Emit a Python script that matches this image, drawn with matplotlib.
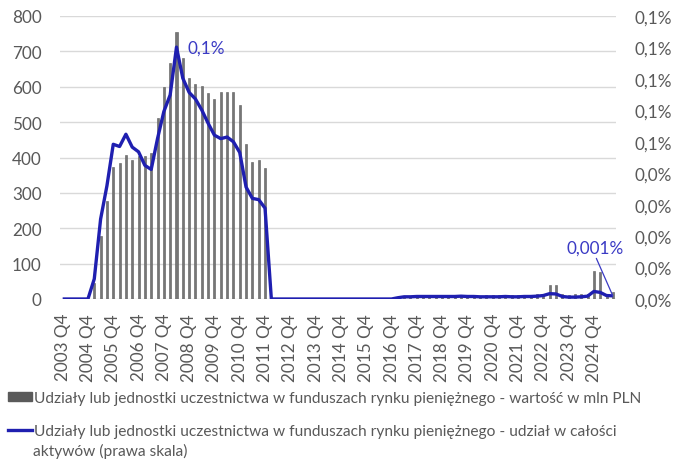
import matplotlib
matplotlib.use("Agg")
import matplotlib.pyplot as plt
import numpy as np
from matplotlib.patches import Patch
from matplotlib.lines import Line2D

plt.rcParams['font.family'] = ['Lato', 'DejaVu Sans']

# ---- data ----
n_quarters = 88  # 2003 Q4 .. 2025 Q3
tick_labels = ["2003 Q4", "2004 Q4", "2005 Q4", "2006 Q4", "2007 Q4", "2008 Q4",
               "2009 Q4", "2010 Q4", "2011 Q4", "2012 Q4", "2013 Q4", "2014 Q4",
               "2015 Q4", "2016 Q4", "2017 Q4", "2018 Q4", "2019 Q4", "2020 Q4",
               "2021 Q4", "2022 Q4", "2023 Q4", "2024 Q4"]

bar_values = ([0, 0, 0, 0, 0,
               45, 179, 278, 374, 384, 407, 393, 405, 403, 413, 511, 600, 666, 754,
               681, 626, 607, 603, 582, 565, 586, 586, 586, 549, 437, 388, 394, 370]
              + [0] * 20
              + [5, 6, 6, 7, 7, 6, 7, 8, 7, 8, 9, 8, 10, 9, 11, 10, 12, 11, 10, 12,
                 11, 12, 13, 12]
              + [40, 40, 13, 12, 14, 13, 15, 80, 75, 15, 19])

share_values = ([0, 0, 0, 0, 0,
                 0.0064, 0.0254, 0.0360, 0.0492, 0.0485, 0.0524, 0.0483, 0.0468,
                 0.0425, 0.0412, 0.0510, 0.0596, 0.0649, 0.0801, 0.0702, 0.0657,
                 0.0636, 0.0601, 0.0559, 0.0521, 0.0510, 0.0515, 0.0500, 0.0466,
                 0.0356, 0.0320, 0.0316, 0.0289]
                + [0] * 20
                + [0.0004,
                   0.0007, 0.0007, 0.0008, 0.0008, 0.0008, 0.0008, 0.0008, 0.0008,
                   0.0008, 0.0009, 0.0008, 0.0008, 0.0007, 0.0007, 0.0007, 0.0007,
                   0.0008, 0.0007, 0.0007, 0.0008, 0.0008, 0.0009, 0.0011]
                + [0.0017, 0.0016, 0.0008, 0.0006, 0.0006, 0.0007, 0.0009, 0.0024,
                   0.0021, 0.0011, 0.0010])

right_ticks = [0.0, 0.01, 0.02, 0.03, 0.04, 0.05, 0.06, 0.07, 0.08, 0.09]
left_ticks = [0, 100, 200, 300, 400, 500, 600, 700, 800]

label_bar = "Udziały lub jednostki uczestnictwa w funduszach rynku pieniężnego - wartość w mln PLN"
label_line_1 = "Udziały lub jednostki uczestnictwa w funduszach rynku pieniężnego - udział w całości"
label_line_2 = "aktywów (prawa skala)"

# ---- styling ----
W, H = 676, 460
fig = plt.figure(figsize=(W / 100, H / 100), dpi=100)
left_px, right_px, top_px, bottom_px = 59.5, 616, 17, 300
ax = fig.add_axes([left_px / W, 1 - bottom_px / H, (right_px - left_px) / W,
                   (bottom_px - top_px) / H])

x = np.arange(n_quarters)
tick_color = '#595959'
bar_color = '#767676'
line_color = '#1f1fb0'
ann_color = '#3a3ac4'
fs = 12.3

ax.bar(x, bar_values, width=0.32, color=bar_color, edgecolor='#5a5a5a',
       linewidth=0.4, zorder=2)
ax.set_xlim(-0.5, n_quarters - 0.5)
ax.set_ylim(0, 800)
ax.set_yticks(left_ticks)
ax.set_yticklabels([str(v) for v in left_ticks])
ax.grid(axis='y', color='#d9d9d9', linewidth=1.0, zorder=0)
ax.set_axisbelow(True)
ax.set_xticks(x[::4])
ax.set_xticklabels(tick_labels, rotation=90, va='top', ha='center')
ax.tick_params(axis='both', length=0, colors=tick_color, labelsize=fs)
ax.tick_params(axis='x', pad=10)
ax.tick_params(axis='y', pad=13)
for s in ax.spines.values():
    s.set_visible(False)

ax2 = ax.twinx()
ax2.plot(x, share_values, color=line_color, linewidth=2.4, zorder=3,
         solid_joinstyle='round', solid_capstyle='butt')
ax2.set_ylim(0, 0.09)
ax2.set_yticks(right_ticks)


def fmt(v):
    r = np.floor(v * 10 + 0.5 + 1e-9) / 10
    return f"{r:.1f}%".replace('.', ',')


ax2.set_yticklabels([fmt(v) for v in right_ticks])
ax2.tick_params(axis='y', length=0, colors=tick_color, labelsize=fs, pad=13.5)
for s in ax2.spines.values():
    s.set_visible(False)

# annotations
peak_i = int(np.argmax(share_values))
ax2.annotate("0,1%", xy=(peak_i, share_values[peak_i]), xytext=(peak_i + 1.7, 0.0798),
             color=ann_color, fontsize=fs, va='center', ha='left')
last_i = n_quarters - 1
ax2.annotate("0,001%", xy=(last_i, share_values[last_i]),
             xytext=(84.2, 0.0138), color=ann_color, fontsize=fs,
             va='bottom', ha='center',
             arrowprops=dict(arrowstyle='-', color=ann_color, lw=0.9,
                             shrinkA=0, shrinkB=0, relpos=(0.5, 0.0)))

# legend
handles = [Patch(facecolor='#5a5a5a', edgecolor='#5a5a5a'),
           Line2D([0], [0], color=line_color, linewidth=2.4)]
leg = fig.legend(handles, [label_bar, label_line_1], loc='upper left',
                 bbox_to_anchor=(8 / W, 1 - 392 / H), frameon=False,
                 fontsize=fs - 1.1, handlelength=1.55, handleheight=0.55,
                 handletextpad=0.1, borderpad=0, borderaxespad=0,
                 labelspacing=1.25)
for t in leg.get_texts():
    t.set_color(tick_color)
fig.text(33 / W, 1 - 459 / H, label_line_2, color=tick_color, fontsize=fs - 1.1,
         va='bottom', ha='left')

fig.savefig("out.png", dpi=100)
